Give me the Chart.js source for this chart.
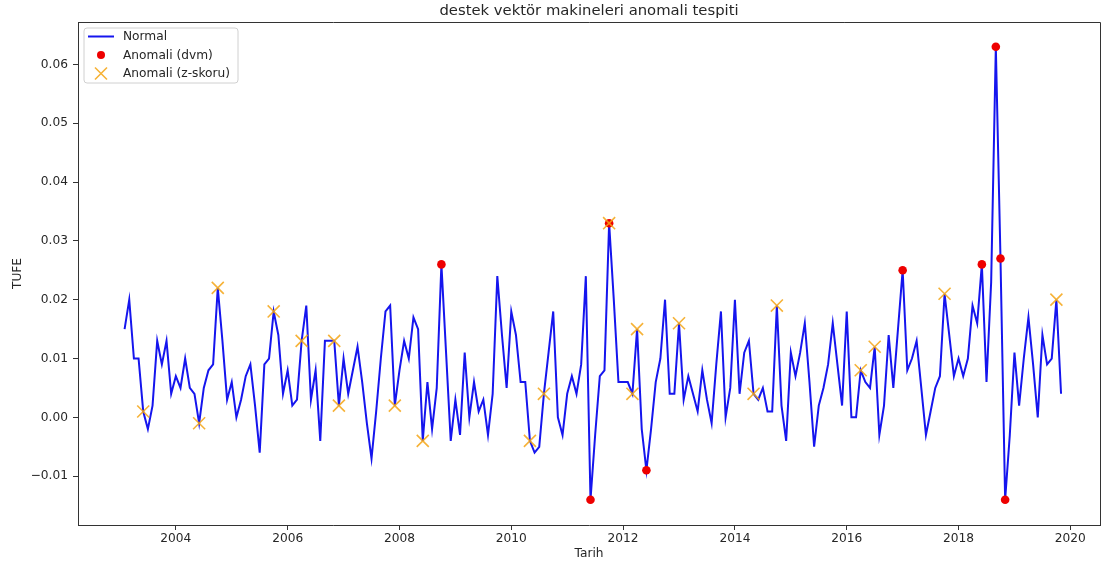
<!DOCTYPE html>
<html>
<head>
<meta charset="utf-8">
<script src="https://cdn.jsdelivr.net/npm/chart.js@4.4.1/dist/chart.umd.min.js"></script>
<style>
  html, body { margin: 0; padding: 0; background: #ffffff; }
  canvas { display: block; }
</style>
</head>
<body>
<canvas id="chart" width="1111" height="569"></canvas>
<script>
// Monthly TUFE change, one value per month starting February 2003
const startYear = 2003;
const startMonth = 2;
const tufe = [
  0.015, 0.020, 0.010, 0.010, 0.001, -0.002, 0.002, 0.013, 0.009, 0.013, 0.004,   // 2003
  0.007, 0.005, 0.010, 0.005, 0.004, -0.001, 0.005, 0.008, 0.009, 0.022, 0.013, 0.003, // 2004
  0.006, 0.000, 0.003, 0.007, 0.009, 0.002, -0.006, 0.009, 0.010, 0.018, 0.014, 0.004, // 2005
  0.008, 0.002, 0.003, 0.013, 0.019, 0.003, 0.008, -0.004, 0.013, 0.013, 0.013, 0.002, // 2006
  0.010, 0.004, 0.008, 0.012, 0.006, -0.001, -0.007, 0.001, 0.010, 0.018, 0.019, 0.002, // 2007
  0.008, 0.013, 0.010, 0.017, 0.015, -0.004, 0.006, -0.002, 0.005, 0.026, 0.011, -0.004, // 2008
  0.003, -0.003, 0.011, 0.000, 0.006, 0.001, 0.003, -0.003, 0.004, 0.024, 0.014, 0.005, // 2009
  0.018, 0.014, 0.006, 0.006, -0.004, -0.006, -0.005, 0.004, 0.011, 0.018, 0.000, -0.003, // 2010
  0.004, 0.007, 0.004, 0.009, 0.024, -0.014, -0.003, 0.007, 0.008, 0.033, 0.020, 0.006, // 2011
  0.006, 0.006, 0.004, 0.015, -0.002, -0.009, -0.002, 0.006, 0.010, 0.020, 0.004, 0.004, // 2012
  0.016, 0.003, 0.007, 0.004, 0.001, 0.008, 0.003, -0.001, 0.009, 0.018, 0.000, 0.005, // 2013
  0.020, 0.004, 0.011, 0.013, 0.004, 0.003, 0.005, 0.001, 0.001, 0.019, 0.002, -0.004, // 2014
  0.011, 0.007, 0.011, 0.016, 0.006, -0.005, 0.002, 0.005, 0.009, 0.016, 0.009, 0.002, // 2015
  0.018, 0.000, 0.000, 0.008, 0.006, 0.005, 0.012, -0.003, 0.002, 0.014, 0.005, 0.015, // 2016
  0.025, 0.008, 0.010, 0.013, 0.005, -0.003, 0.001, 0.005, 0.007, 0.021, 0.014, 0.007, // 2017
  0.010, 0.007, 0.010, 0.019, 0.016, 0.026, 0.006, 0.023, 0.063, 0.027, -0.014, -0.003, // 2018
  0.011, 0.002, 0.010, 0.017, 0.009, 0.000, 0.014, 0.009, 0.010, 0.020, 0.004        // 2019
];

// Month positions (index into tufe) flagged by each detector
const svmAnomalies = [68, 100, 104, 112, 167, 184, 187, 188, 189];
const zScoreAnomalies = [4, 16, 20, 32, 38, 45, 46, 58, 64, 87, 90, 104, 109, 110, 119,
                         135, 140, 158, 161, 176, 200];

const xTicks = [2004, 2006, 2008, 2010, 2012, 2014, 2016, 2018, 2020];
const yTicks = [-0.01, 0.00, 0.01, 0.02, 0.03, 0.04, 0.05, 0.06];

const titleText = 'destek vektör makineleri anomali tespiti';
const xLabel = 'Tarih';
const yLabel = 'TUFE';
const seriesNames = ['Normal', 'Anomali (dvm)', 'Anomali (z-skoru)'];

// Decimal-year position of month i
function monthPos(i) {
  const m = startMonth - 1 + i;
  return startYear + Math.floor(m / 12) + (m % 12) / 12;
}

const linePoints = tufe.map((v, i) => ({ x: monthPos(i), y: v }));
const svmPoints = svmAnomalies.map(i => ({ x: monthPos(i), y: tufe[i] }));
const zPoints = zScoreAnomalies.map(i => ({ x: monthPos(i), y: tufe[i] }));

const FONT = 'DejaVu Sans';
const TEXT = '#262626';
const AXIS = '#333333';

function fmtTick(v) {
  const s = Math.abs(v).toFixed(2);
  return v < -1e-9 ? '\u2212' + s : s;
}

// Title over the plot box, outer top/right spines, and an inset legend
const decorations = {
  id: 'decorations',
  afterDraw(chart) {
    const { ctx, chartArea: a } = chart;
    ctx.save();

    ctx.strokeStyle = AXIS;
    ctx.lineWidth = 1;
    ctx.beginPath();
    ctx.moveTo(a.left, a.top + 0.5);
    ctx.lineTo(a.right + 0.5, a.top + 0.5);
    ctx.lineTo(a.right + 0.5, a.bottom);
    ctx.stroke();

    ctx.fillStyle = TEXT;
    ctx.font = '14.8px "' + FONT + '"';
    ctx.textAlign = 'center';
    ctx.textBaseline = 'middle';
    ctx.fillText(titleText, (a.left + a.right) / 2, 11);

    // legend box
    const bx = a.left + 6, by = a.top + 6, bw = 154, bh = 55, r = 3;
    ctx.beginPath();
    ctx.moveTo(bx + r, by);
    ctx.arcTo(bx + bw, by, bx + bw, by + bh, r);
    ctx.arcTo(bx + bw, by + bh, bx, by + bh, r);
    ctx.arcTo(bx, by + bh, bx, by, r);
    ctx.arcTo(bx, by, bx + bw, by, r);
    ctx.closePath();
    ctx.fillStyle = 'rgba(255,255,255,0.8)';
    ctx.fill();
    ctx.strokeStyle = '#d0d0d0';
    ctx.stroke();

    const ds = chart.data.datasets;
    const rows = [by + 8.5, by + 27, by + 45.5];
    const symX = bx + 17;

    ctx.strokeStyle = ds[0].borderColor;
    ctx.lineWidth = ds[0].borderWidth;
    ctx.beginPath();
    ctx.moveTo(bx + 4, rows[0]);
    ctx.lineTo(bx + 30, rows[0]);
    ctx.stroke();

    ctx.fillStyle = ds[1].pointBackgroundColor;
    ctx.beginPath();
    ctx.arc(symX, rows[1], 4, 0, Math.PI * 2);
    ctx.fill();

    ctx.strokeStyle = ds[2].pointBorderColor;
    ctx.lineWidth = ds[2].pointBorderWidth;
    const d = 6;
    ctx.beginPath();
    ctx.moveTo(symX - d, rows[2] - d); ctx.lineTo(symX + d, rows[2] + d);
    ctx.moveTo(symX - d, rows[2] + d); ctx.lineTo(symX + d, rows[2] - d);
    ctx.stroke();

    ctx.fillStyle = TEXT;
    ctx.font = '12.2px "' + FONT + '"';
    ctx.textAlign = 'left';
    ctx.textBaseline = 'middle';
    seriesNames.forEach((name, k) => ctx.fillText(name, bx + 39, rows[k] + 0.5));

    ctx.restore();
  }
};

new Chart(document.getElementById('chart'), {
  type: 'scatter',
  data: {
    datasets: [
      {
        label: seriesNames[0],
        data: linePoints,
        showLine: true,
        borderColor: '#1515ee',
        borderWidth: 2,
        pointRadius: 0,
        tension: 0,
        order: 3
      },
      {
        label: seriesNames[1],
        data: svmPoints,
        showLine: false,
        pointStyle: 'circle',
        pointRadius: 4.3,
        pointBackgroundColor: '#ee0000',
        pointBorderColor: '#ee0000',
        pointBorderWidth: 0,
        order: 2
      },
      {
        label: seriesNames[2],
        data: zPoints,
        showLine: false,
        pointStyle: 'crossRot',
        pointRadius: 8.5,
        pointBorderColor: 'rgba(245,165,20,0.85)',
        pointBorderWidth: 1.6,
        order: 1
      }
    ]
  },
  options: {
    responsive: false,
    animation: false,
    events: [],
    layout: { padding: { top: 22, right: 11, bottom: 0, left: 0 } },
    plugins: {
      legend: { display: false },
      tooltip: { enabled: false },
      title: { display: false }
    },
    scales: {
      x: {
        type: 'linear',
        min: 2002.25,
        max: 2020.53,
        afterFit(scale) { scale.height = 44; },
        afterBuildTicks(scale) { scale.ticks = xTicks.map(v => ({ value: v })); },
        grid: { display: true, drawOnChartArea: false, drawTicks: true, tickLength: 5, color: AXIS },
        border: { display: true, color: AXIS, width: 1 },
        ticks: {
          padding: 2,
          maxRotation: 0,
          autoSkip: false,
          color: TEXT,
          font: { family: FONT, size: 12.2 },
          callback: v => String(v)
        },
        title: {
          display: true,
          text: xLabel,
          color: TEXT,
          font: { family: FONT, size: 12.2 },
          padding: { top: 0, bottom: 7.5 }
        }
      },
      y: {
        type: 'linear',
        min: -0.0183,
        max: 0.0672,
        afterFit(scale) { scale.width = 78; },
        afterBuildTicks(scale) { scale.ticks = yTicks.map(v => ({ value: v })); },
        grid: { display: true, drawOnChartArea: false, drawTicks: true, tickLength: 5, color: AXIS },
        border: { display: true, color: AXIS, width: 1 },
        ticks: {
          padding: 5,
          autoSkip: false,
          color: TEXT,
          font: { family: FONT, size: 12.2 },
          callback: v => fmtTick(v)
        },
        title: {
          display: true,
          text: yLabel,
          color: TEXT,
          font: { family: FONT, size: 12.2 },
          padding: { top: 11, bottom: 0 }
        }
      }
    }
  },
  plugins: [decorations]
});
</script>
</body>
</html>
